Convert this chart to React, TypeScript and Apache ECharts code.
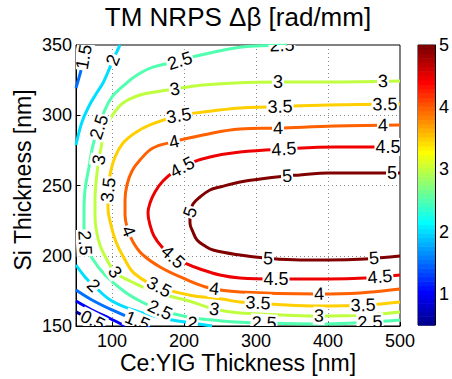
import { useEffect, useRef } from 'react';
import * as echarts from 'echarts';

const FONT = '"Liberation Sans", Arial, Helvetica, sans-serif';

// Axis ticks
const xTicks = [100, 200, 300, 400, 500];
const colorTicks = [1, 2, 3, 4, 5];
const colorMin = 0.5;
const colorMax = 5;

// Contour lines of TM NRPS Δβ (rad/mm): [Ce:YIG thickness nm, Si thickness nm]
const c05 = [[50, 160], [72.2, 154.3], [88.9, 150]];
const c10 = [[50, 167.8], [72.2, 161.4], [95.8, 155.7], [118.1, 150]];
const c15Upper = [[50, 319.4], [55.6, 329.4], [59.7, 337.9], [63.9, 350]];
const c15Lower = [[50, 175.6], [72.2, 168.5], [100, 161.4], [131.9, 154.3], [152.8, 150]];
const c20Upper = [[50, 278.8], [58.3, 295.2], [68.1, 306.6], [77.8, 315.1], [87.5, 323], [94.4, 330.8], [101.4, 339.3], [111.1, 350]];
const c20Lower = [[50, 193.4], [62.5, 184.9], [75, 178.5], [100, 167.8], [137.5, 160], [183.3, 154.3], [211.1, 152.1], [238.9, 150]];
const c25 = [[343, 350], [308.3, 349.4], [277.8, 348.4], [236.1, 344.3], [211.1, 341.5], [193.1, 338.6], [156.9, 334.3], [134.7, 328.6], [115.3, 320.8], [100, 313], [88.9, 302.3], [81.9, 291.6], [73.6, 278.8], [68.1, 263.2], [62.5, 246.8], [61.1, 230.4], [61.1, 221.9], [62.5, 209.1], [72.2, 198.4], [90.3, 186.3], [118.1, 174.2], [138.9, 167.8], [166.7, 161.4], [206.9, 156.4], [252.8, 153.6], [312.5, 152.1], [400, 151.4], [458.3, 152.8], [500, 154.3]];
const c30 = [[500, 324.4], [400, 323.7], [330.6, 323.7], [270.8, 323], [226.4, 321.5], [187.5, 318.7], [159.7, 316.5], [138.9, 314.4], [115.3, 308.7], [100, 299.5], [90.3, 289.5], [84.7, 276.7], [80.6, 264.6], [77.8, 251.8], [76.4, 239.7], [76.4, 229], [77.8, 219.8], [83.3, 207.7], [93.1, 197], [104.2, 188.4], [127.8, 181.3], [159.7, 174.2], [206.9, 167.8], [241.7, 162.1], [277.8, 159.3], [400, 157.1], [451.4, 157.8], [500, 160]];
const c35 = [[500, 308], [400, 307.3], [316.7, 305.9], [277.8, 305.2], [226.4, 302.3], [190.3, 299.5], [152.8, 293.1], [131.9, 287.4], [115.3, 280.2], [104.2, 270.3], [97.2, 257.5], [94.4, 245.4], [94.4, 234], [98.6, 221.9], [105.6, 209.8], [116.7, 198.4], [131.9, 187], [165.3, 177.8], [206.9, 172.1], [252.8, 169.2], [277.8, 167.1], [400, 164.2], [451.4, 164.9], [500, 167.1]];
const c40 = [[500, 293.1], [409.7, 292.3], [330.6, 290.9], [277.8, 290.2], [226.4, 285.9], [184.7, 281], [156.9, 276.7], [138.9, 268.1], [127.8, 260.3], [120.8, 250.4], [118.1, 239.7], [118.1, 229], [122.2, 218.3], [129.2, 209.8], [141.7, 201.2], [166.7, 192], [201.4, 183.5], [236.1, 177], [277.8, 174.2], [386.1, 172.8], [444.4, 173.5], [500, 176.3]];
const c45 = [[500, 277.4], [409.7, 277.4], [340.3, 276], [277.8, 273.8], [236.1, 270.3], [208.3, 266], [187.5, 260.3], [170.8, 253.2], [159.7, 245.4], [152.8, 237.5], [150, 230.4], [152.8, 221.9], [158.3, 214.1], [169.4, 206.2], [184.7, 199.1], [201.4, 194.8], [222.2, 190.6], [250, 186.3], [277.8, 184.2], [326.4, 183.5], [400, 183.5], [451.4, 184.2], [500, 186.3]];
const c50 = [[500, 258.9], [451.4, 258.9], [400, 258.9], [361.1, 257.5], [340.3, 256.8], [316.7, 255.3], [277.8, 252.5], [250, 248.9], [236.1, 246.8], [222.2, 241.8], [212.5, 236.8], [208.3, 230.4], [208.3, 223.3], [212.5, 216.9], [218.1, 211.2], [229.2, 206.9], [240.3, 204.1], [277.8, 200.5], [312.5, 198.4], [361.1, 197], [400, 197], [451.4, 197.7], [500, 199.8]];

// Inline contour labels: [Ce:YIG nm, Si nm, level]
const labelSpots = [
  [61.1, 341.5, 1.5], [101.4, 339.3, 2], [194.4, 338.6, 2.5], [336.1, 349.3, 2.5], [81.9, 291.6, 2.5],
  [83.3, 268.1, 3], [187.5, 317.3, 3], [330.6, 323.7, 3], [476.4, 324.4, 3],
  [95.8, 246.8, 3.5], [193.1, 298.8, 3.5], [333.3, 306.6, 3.5], [479.2, 307.3, 3.5],
  [186.1, 281, 4], [330.6, 290.9, 4], [476.4, 292.3, 4], [120.8, 216.9, 4], [241.7, 175.6, 4], [387.5, 172.8, 4],
  [197.2, 263.2, 4.5], [338.9, 275.3, 4.5], [483.3, 276.7, 4.5], [183.3, 198.4, 4.5], [327.8, 182.7, 4.5], [472.2, 184.2, 4.5],
  [208.3, 231.1, 5], [343.1, 256.8, 5], [488.9, 258.9, 5], [316.7, 197.7, 5], [463.9, 198.4, 5],
  [165.3, 177.8, 3.5], [302.8, 164.9, 3.5], [448.6, 164.9, 3.5],
  [104.2, 188.4, 3], [241.7, 160.7, 3], [387.5, 157.1, 3],
  [62.5, 209.1, 2.5], [166.7, 161.4, 2.5], [311.1, 152.1, 2.5], [458.3, 152.8, 2.5],
  [75, 179.2, 2], [211.1, 152.1, 2], [134.7, 152.8, 1.5], [72.2, 152.8, 0.5],
];

const contourSet: [number, number[][]][] = [
  [0.5, c05], [1, c10], [1.5, c15Upper], [1.5, c15Lower], [2, c20Upper], [2, c20Lower],
  [2.5, c25], [3, c30], [3.5, c35], [4, c40], [4.5, c45], [5, c50],
];

// 64-step jet colour map (1-based index)
function jet(i: number): string {
  const r = i <= 24 ? 0 : i <= 40 ? (i - 24) / 16 : i <= 56 ? 1 : (72 - i) / 16;
  const g = i <= 8 ? 0 : i <= 24 ? (i - 8) / 16 : i <= 40 ? 1 : i <= 56 ? (56 - i) / 16 : 0;
  const b = i <= 8 ? (i + 8) / 16 : i <= 24 ? 1 : i <= 40 ? (40 - i) / 16 : 0;
  const c = (v: number) => Math.round(Math.max(0, Math.min(1, v)) * 255);
  return `rgb(${c(r)},${c(g)},${c(b)})`;
}

function levelColor(v: number): string {
  const idx = Math.min(64, Math.floor(((v - colorMin) / (colorMax - colorMin)) * 64) + 1);
  return jet(Math.max(1, idx));
}

const bandCount = 64;

export default function App() {
  const ref = useRef<HTMLDivElement>(null);

  useEffect(() => {
    if (!ref.current) return;
    const chart = echarts.init(ref.current, null, { renderer: 'svg' });

    const lineSeries = contourSet.map(([lvl, pts]) => ({
      type: 'line',
      xAxisIndex: 0,
      yAxisIndex: 0,
      data: pts,
      showSymbol: false,
      symbol: 'none',
      smooth: 0.4,
      silent: true,
      z: 2,
      lineStyle: { color: levelColor(lvl), width: 3 },
    }));

    const labelSeries = {
      type: 'custom',
      xAxisIndex: 0,
      yAxisIndex: 0,
      data: labelSpots,
      encode: { x: 0, y: 1 },
      clip: true,
      silent: true,
      z: 5,
      renderItem: (_params: any, api: any) => {
        const lvl = api.value(2);
        const p = api.coord([api.value(0), api.value(1)]);
        let best = Infinity;
        let ang = 0;
        let pos = p;
        contourSet.forEach(([l, pts]) => {
          if (l !== lvl) return;
          for (let j = 0; j < pts.length - 1; j++) {
            const a = api.coord(pts[j]);
            const b = api.coord(pts[j + 1]);
            const dx = b[0] - a[0];
            const dy = b[1] - a[1];
            const len2 = dx * dx + dy * dy || 1;
            const t = Math.max(0, Math.min(1, ((p[0] - a[0]) * dx + (p[1] - a[1]) * dy) / len2));
            const q = [a[0] + t * dx, a[1] + t * dy];
            const d = Math.hypot(p[0] - q[0], p[1] - q[1]);
            if (d < best) {
              best = d;
              pos = q;
              ang = Math.atan2(-dy, dx);
            }
          }
        });
        if (ang > Math.PI / 2) ang -= Math.PI;
        if (ang <= -Math.PI / 2) ang += Math.PI;
        if (best > 4) pos = p;
        return {
          type: 'text',
          x: pos[0],
          y: pos[1],
          rotation: ang,
          style: {
            text: String(lvl),
            fill: '#000',
            font: `18px ${FONT}`,
            align: 'center',
            verticalAlign: 'middle',
            backgroundColor: '#fff',
            padding: [0, 1],
          },
        };
      },
    };

    const bands = Array.from({ length: bandCount }, (_, i) => [0.5, colorMin + ((i + 0.5) * (colorMax - colorMin)) / bandCount, i]);
    const colorBarSeries = {
      type: 'custom',
      xAxisIndex: 1,
      yAxisIndex: 1,
      data: bands,
      encode: { x: 0, y: 1 },
      silent: true,
      renderItem: (_params: any, api: any) => {
        const i = api.value(2);
        const step = (colorMax - colorMin) / bandCount;
        const lo = colorMin + i * step;
        const hi = lo + step;
        const p0 = api.coord([0, hi]);
        const p1 = api.coord([1, lo]);
        return {
          type: 'rect',
          shape: { x: p0[0], y: p0[1], width: p1[0] - p0[0], height: p1[1] - p0[1] + 0.6 },
          style: { fill: jet(i + 1) },
        };
      },
    };

    const tickText = { color: '#000', fontSize: 18, fontFamily: FONT, lineHeight: 13 };

    chart.setOption({
      animation: false,
      backgroundColor: '#fff',
      grid: [
        { left: 76, top: 45, width: 324, height: 281, show: true, borderColor: '#000', borderWidth: 1, backgroundColor: 'transparent' },
        { left: 418, top: 45, width: 24, height: 280, show: true, borderColor: '#000', borderWidth: 1, backgroundColor: 'transparent' },
      ],
      xAxis: [
        {
          gridIndex: 0,
          type: 'value',
          min: 50,
          max: 500,
          axisLine: { show: true, onZero: false, lineStyle: { color: '#000', width: 1 } },
          axisTick: { show: true, inside: true, length: 4, customValues: xTicks, lineStyle: { color: '#000' } },
          axisLabel: { ...tickText, customValues: xTicks, margin: 8 },
          splitLine: { show: true, lineStyle: { color: '#8a8a8a', type: [1, 3], width: 1 } },
        },
        { gridIndex: 1, type: 'value', min: 0, max: 1, show: false },
      ],
      yAxis: [
        {
          gridIndex: 0,
          type: 'value',
          min: 150,
          max: 350,
          interval: 50,
          axisLine: { show: true, onZero: false, lineStyle: { color: '#000', width: 1 } },
          axisTick: { show: true, inside: true, length: 4, lineStyle: { color: '#000' } },
          axisLabel: { ...tickText, margin: 4 },
          splitLine: { show: true, lineStyle: { color: '#8a8a8a', type: [1, 3], width: 1 } },
        },
        {
          gridIndex: 1,
          type: 'value',
          position: 'right',
          min: colorMin,
          max: colorMax,
          axisLine: { show: true, onZero: false, lineStyle: { color: '#000', width: 1 } },
          axisTick: { show: true, inside: true, length: 4, customValues: colorTicks, lineStyle: { color: '#000' } },
          axisLabel: { ...tickText, customValues: colorTicks, margin: 4 },
          splitLine: { show: false },
        },
      ],
      graphic: [
        {
          type: 'text',
          x: 238,
          y: 17,
          style: { text: 'TM NRPS Δβ [rad/mm]', font: `26px ${FONT}`, fill: '#000', align: 'center', verticalAlign: 'middle', lineHeight: 22 },
        },
        {
          type: 'text',
          x: 238,
          y: 363,
          style: { text: 'Ce:YIG Thickness [nm]', font: `23px ${FONT}`, fill: '#000', align: 'center', verticalAlign: 'middle', lineHeight: 17 },
        },
        {
          type: 'text',
          x: 23,
          y: 180,
          rotation: Math.PI / 2,
          style: { text: 'Si Thickness [nm]', font: `23px ${FONT}`, fill: '#000', align: 'center', verticalAlign: 'middle', lineHeight: 17 },
        },
      ],
      series: [...lineSeries, labelSeries, colorBarSeries],
    });

    return () => chart.dispose();
  }, []);

  return (
    <div
      ref={ref}
      style={{ position: 'fixed', left: 0, top: 0, width: 452, height: 379, background: '#fff' }}
    />
  );
}
